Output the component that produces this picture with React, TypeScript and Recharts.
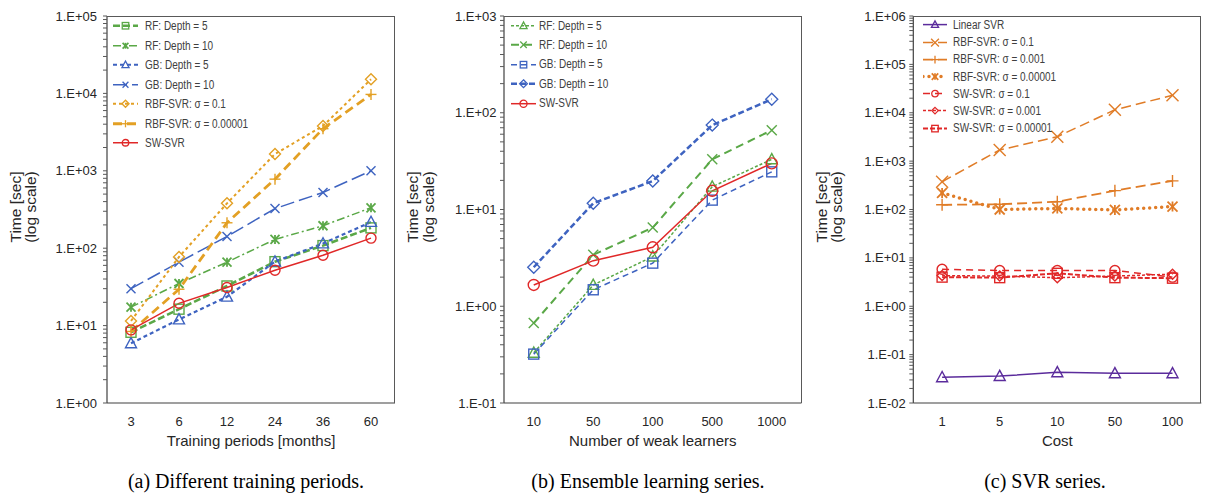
import React from "react";
import { LineChart, Line, XAxis, YAxis } from "recharts";

// ---- panel (a): training periods ----
const periods = ["3", "6", "12", "24", "36", "60"];
const rf5A = [8.2, 16.3, 32.5, 67, 108, 183];
const rf10A = [17.3, 35, 66, 130, 195, 333];
const gb5A = [5.9, 12, 23.6, 67, 115, 218];
const gb10A = [30, 66, 142, 325, 525, 1000];
const rbf01A = [11.5, 77, 380, 1650, 3800, 15200];
const rbf00001A = [8.4, 29.5, 213, 780, 3500, 9700];
const swA = [8.8, 19.4, 31, 52, 81, 135];

// ---- panel (b): ensemble learners ----
const learners = ["10", "50", "100", "500", "1000"];
const rf5B = [0.33, 1.66, 3.26, 17.2, 33];
const rf10B = [0.67, 3.4, 6.5, 33, 66];
const gb5B = [0.32, 1.48, 2.79, 12.5, 24.5];
const gb10B = [2.53, 11.6, 19.7, 74.5, 138];
const swB = [1.66, 2.96, 4.07, 15.6, 30];

// ---- panel (c): SVR series ----
const costs = ["1", "5", "10", "50", "100"];
const linearC = [0.034, 0.036, 0.043, 0.041, 0.041];
const rbf01C = [375, 1700, 3200, 11500, 23000];
const rbf0001C = [125, 128, 145, 245, 390];
const rbf00001C = [220, 100, 105, 98, 115];
const sw01C = [5.8, 5.5, 5.5, 5.5, 4.0];
const sw0001C = [4.3, 4.2, 3.9, 4.2, 4.6];
const sw00001C = [4.0, 3.9, 4.8, 3.9, 3.8];

const GREEN = "#5aa847";
const BLUE = "#3e63c0";
const GOLD = "#e3a024";
const ORANGE = "#e07c27";
const RED = "#e02828";
const PURPLE = "#5b2c9c";

const SANS = "'Liberation Sans', Arial, sans-serif";
const SERIF = "'Liberation Serif', 'Times New Roman', serif";

type Shape = "circle" | "square" | "triangle" | "diamond" | "x" | "plus" | "asterisk";

interface Series {
  key: string;
  name: string;
  values: number[];
  color: string;
  dash?: string;
  width: number;
  shape: Shape;
  size: number;
  cap?: "round" | "butt";
}

const seriesA: Series[] = [
  { key: "rf5", name: "RF: Depth = 5", values: rf5A, color: GREEN, dash: "7 3", width: 2.6, shape: "square", size: 10 },
  { key: "rf10", name: "RF: Depth = 10", values: rf10A, color: GREEN, dash: "8 3 2 3", width: 1.5, shape: "asterisk", size: 9 },
  { key: "gb5", name: "GB: Depth = 5", values: gb5A, color: BLUE, dash: "4 3", width: 2.2, shape: "triangle", size: 11 },
  { key: "gb10", name: "GB: Depth = 10", values: gb10A, color: BLUE, dash: "14 5", width: 1.5, shape: "x", size: 9 },
  { key: "rbf01", name: "RBF-SVR: σ = 0.1", values: rbf01A, color: GOLD, dash: "3 3", width: 2, shape: "diamond", size: 11 },
  { key: "rbf00001", name: "RBF-SVR: σ = 0.00001", values: rbf00001A, color: GOLD, dash: "9 5", width: 2.8, shape: "plus", size: 11 },
  { key: "sw", name: "SW-SVR", values: swA, color: RED, width: 1.5, shape: "circle", size: 10 },
];

const seriesB: Series[] = [
  { key: "rf5", name: "RF: Depth = 5", values: rf5B, color: GREEN, dash: "3 2", width: 1.5, shape: "triangle", size: 11 },
  { key: "rf10", name: "RF: Depth = 10", values: rf10B, color: GREEN, dash: "8 5", width: 2, shape: "x", size: 10 },
  { key: "gb5", name: "GB: Depth = 5", values: gb5B, color: BLUE, dash: "6 4", width: 1.5, shape: "square", size: 10 },
  { key: "gb10", name: "GB: Depth = 10", values: gb10B, color: BLUE, dash: "6 3", width: 2.5, shape: "diamond", size: 12 },
  { key: "sw", name: "SW-SVR", values: swB, color: RED, width: 1.5, shape: "circle", size: 11 },
];

const seriesC: Series[] = [
  { key: "lin", name: "Linear SVR", values: linearC, color: PURPLE, width: 1.5, shape: "triangle", size: 11 },
  { key: "rbf01", name: "RBF-SVR: σ = 0.1", values: rbf01C, color: ORANGE, dash: "10 5", width: 1.5, shape: "x", size: 12 },
  { key: "rbf0001", name: "RBF-SVR: σ = 0.001", values: rbf0001C, color: ORANGE, dash: "10 5", width: 1.8, shape: "plus", size: 12 },
  { key: "rbf00001", name: "RBF-SVR: σ = 0.00001", values: rbf00001C, color: ORANGE, dash: "0 6", width: 3.5, shape: "asterisk", size: 10, cap: "round" },
  { key: "sw01", name: "SW-SVR: σ = 0.1", values: sw01C, color: RED, dash: "7 5", width: 1.5, shape: "circle", size: 10 },
  { key: "sw0001", name: "SW-SVR: σ = 0.001", values: sw0001C, color: RED, dash: "3 2", width: 1.5, shape: "diamond", size: 10 },
  { key: "sw00001", name: "SW-SVR: σ = 0.00001", values: sw00001C, color: RED, dash: "5 2", width: 2, shape: "square", size: 10 },
];

const Marker = ({ shape, x, y, size, color, sw = 1.4 }: { shape: Shape; x: number; y: number; size: number; color: string; sw?: number }) => {
  const h = size / 2;
  const common = { fill: "none", stroke: color, strokeWidth: sw };
  switch (shape) {
    case "circle":
      return <circle cx={x} cy={y} r={h} {...common} />;
    case "square":
      return <rect x={x - h} y={y - h} width={size} height={size} {...common} />;
    case "triangle":
      return <polygon points={`${x},${y - h * 1.05} ${x - h},${y + h * 0.8} ${x + h},${y + h * 0.8}`} {...common} />;
    case "diamond":
      return <polygon points={`${x},${y - h} ${x + h},${y} ${x},${y + h} ${x - h},${y}`} {...common} />;
    case "x":
      return (
        <g {...common}>
          <line x1={x - h} y1={y - h} x2={x + h} y2={y + h} />
          <line x1={x - h} y1={y + h} x2={x + h} y2={y - h} />
        </g>
      );
    case "plus":
      return (
        <g {...common}>
          <line x1={x - h} y1={y} x2={x + h} y2={y} />
          <line x1={x} y1={y - h} x2={x} y2={y + h} />
        </g>
      );
    case "asterisk":
      return (
        <g {...common} strokeWidth={sw + 0.4}>
          <line x1={x - h} y1={y - h} x2={x + h} y2={y + h} />
          <line x1={x - h} y1={y + h} x2={x + h} y2={y - h} />
          <line x1={x} y1={y - h} x2={x} y2={y + h} />
        </g>
      );
  }
  return null;
};

const makeDot = (s: Series) => (props: any) => {
  const { cx, cy, index } = props;
  if (cx == null || cy == null) return <g key={`${s.key}-${index}`} />;
  return (
    <g key={`${s.key}-${index}`}>
      <Marker shape={s.shape} x={cx} y={cy} size={s.size} color={s.color} />
    </g>
  );
};

const logTicks = (lo: number, hi: number) => {
  const out: number[] = [];
  for (let d = lo; d < hi; d++) {
    for (let k = 1; k <= 9; k++) out.push(Number((k * Math.pow(10, d)).toPrecision(3)));
  }
  out.push(Math.pow(10, hi));
  return out;
};

const fmtLog = (v: number) => {
  const e = Math.log10(v);
  const r = Math.round(e);
  if (Math.abs(e - r) > 1e-6) return "";
  const sign = r < 0 ? "-" : "+";
  return `1.E${sign}${String(Math.abs(r)).padStart(2, "0")}`;
};

interface LegendCfg {
  left: number;
  top: number;
  rowH: number;
  lineW: number;
  gap: number;
  markerScale: number;
}

interface PanelProps {
  left: number;
  width: number;
  yAxisW: number;
  plotW: number;
  cats: string[];
  series: Series[];
  lo: number;
  hi: number;
  tickGap: number;
  xTitle: string;
  caption: string;
  captionX: number;
  titleX1: number;
  titleX2: number;
  legend: LegendCfg;
}

// legend boxes, positioned relative to their panel
const LegendBox = ({ series, cfg }: { series: Series[]; cfg: LegendCfg }) => (
  <div style={{ position: "absolute", left: cfg.left, top: cfg.top }}>
    {series.map((s) => (
      <div key={s.key} style={{ height: cfg.rowH, display: "flex", alignItems: "center" }}>
        <svg width={cfg.lineW} height={cfg.rowH} style={{ display: "block" }}>
          <line
            x1={0}
            x2={cfg.lineW}
            y1={cfg.rowH / 2}
            y2={cfg.rowH / 2}
            stroke={s.color}
            strokeWidth={s.width}
            strokeDasharray={s.dash}
            strokeLinecap={s.cap ?? "butt"}
          />
          <Marker shape={s.shape} x={cfg.lineW / 2} y={cfg.rowH / 2} size={s.size * cfg.markerScale} color={s.color} sw={1.3} />
        </svg>
        <span
          style={{
            marginLeft: cfg.gap,
            display: "inline-block",
            fontFamily: SANS,
            fontSize: 12.5,
            color: "#404040",
            whiteSpace: "nowrap",
            transform: "scaleX(0.8)",
            transformOrigin: "left center",
          }}
        >
          {s.name}
        </span>
      </div>
    ))}
  </div>
);

const Panel = (p: PanelProps) => {
  const data = p.cats.map((c, i) => {
    const row: Record<string, any> = { x: c };
    p.series.forEach((s) => (row[s.key] = s.values[i]));
    return row;
  });
  const pad = p.plotW / p.cats.length / 2;
  const rightMargin = p.width - p.yAxisW - p.plotW;
  const axisColor = "#404040";
  const tickFont = { fontFamily: SANS, fontSize: 13, fill: "#262626" };
  const plotTop = 16;
  const plotBottom = 403;
  return (
    <div style={{ position: "absolute", left: p.left, top: 0, width: p.width, height: 494 }}>
      <LineChart width={p.width} height={460} data={data} margin={{ top: plotTop, right: rightMargin, left: 0, bottom: 7 }}>
        <XAxis
          dataKey="x"
          type="category"
          padding={{ left: pad, right: pad }}
          height={50}
          tickLine={false}
          tickSize={0}
          tickMargin={14}
          tick={tickFont}
          axisLine={{ stroke: axisColor, strokeWidth: 1.2 }}
        />
        <YAxis
          type="number"
          scale="log"
          domain={[Math.pow(10, p.lo), Math.pow(10, p.hi)]}
          allowDataOverflow
          ticks={logTicks(p.lo, p.hi)}
          interval={0}
          tickFormatter={fmtLog}
          width={p.yAxisW}
          tickSize={4}
          tickMargin={p.tickGap}
          tick={tickFont}
          tickLine={{ stroke: "#595959" }}
          axisLine={{ stroke: axisColor, strokeWidth: 1.2 }}
        />
        {p.series.map((s) => (
          <Line
            key={s.key}
            dataKey={s.key}
            name={s.name}
            stroke={s.color}
            strokeWidth={s.width}
            strokeDasharray={s.dash}
            strokeLinecap={s.cap ?? "butt"}
            dot={makeDot(s)}
            activeDot={false}
            isAnimationActive={false}
          />
        ))}
      </LineChart>
      {/* top and right frame of the plot area */}
      <div
        style={{
          position: "absolute",
          left: p.yAxisW,
          top: plotTop - 0.5,
          width: p.plotW,
          height: plotBottom - plotTop,
          borderTop: "1px solid #595959",
          borderRight: "1px solid #595959",
          boxSizing: "border-box",
          pointerEvents: "none",
        }}
      />
      <LegendBox series={p.series} cfg={{ ...p.legend, left: p.legend.left - p.left }} />
      <div
        style={{
          position: "absolute",
          left: (p.titleX1 + p.titleX2) / 2 - p.left - 100,
          top: 207 - 17,
          width: 200,
          height: 34,
          transform: "rotate(-90deg)",
          textAlign: "center",
          fontFamily: SANS,
          fontSize: 15.5,
          lineHeight: `${p.titleX2 - p.titleX1}px`,
          color: "#262626",
          whiteSpace: "nowrap",
        }}
      >
        <div>Time [sec]</div>
        <div>(log scale)</div>
      </div>
      <div
        style={{
          position: "absolute",
          left: p.yAxisW,
          width: p.plotW,
          top: 432,
          textAlign: "center",
          fontFamily: SANS,
          fontSize: 15,
          color: "#262626",
          whiteSpace: "nowrap",
        }}
      >
        {p.xTitle}
      </div>
      <div
        style={{
          position: "absolute",
          left: p.captionX - p.left - 200,
          width: 400,
          top: 470,
          textAlign: "center",
          fontFamily: SERIF,
          fontSize: 20,
          color: "#000",
          whiteSpace: "nowrap",
        }}
      >
        {p.caption}
      </div>
    </div>
  );
};

export default function App() {
  return (
    <div style={{ position: "absolute", left: 0, top: 0, width: 1206, height: 494, background: "#fff", overflow: "hidden" }}>
      <Panel
        left={0}
        width={400}
        yAxisW={107}
        plotW={288}
        cats={periods}
        series={seriesA}
        lo={0}
        hi={5}
        tickGap={6}
        xTitle="Training periods [months]"
        caption="(a) Different training periods."
        captionX={246}
        titleX1={17}
        titleX2={32}
        legend={{ left: 113, top: 16.3, rowH: 19.5, lineW: 25, gap: 7, markerScale: 0.65 }}
      />
      <Panel
        left={400}
        width={403}
        yAxisW={104}
        plotW={297.5}
        cats={learners}
        series={seriesB}
        lo={-1}
        hi={3}
        tickGap={3.5}
        xTitle="Number of weak learners"
        caption="(b) Ensemble learning series."
        captionX={648}
        titleX1={414}
        titleX2={430}
        legend={{ left: 511, top: 16, rowH: 19.4, lineW: 25, gap: 3, markerScale: 0.65 }}
      />
      <Panel
        left={803}
        width={403}
        yAxisW={110.3}
        plotW={288}
        cats={costs}
        series={seriesC}
        lo={-2}
        hi={6}
        tickGap={3.5}
        xTitle="Cost"
        caption="(c) SVR series."
        captionX={1045}
        titleX1={823}
        titleX2={838}
        legend={{ left: 923, top: 16.4, rowH: 17.2, lineW: 24, gap: 6, markerScale: 0.65 }}
      />
    </div>
  );
}
